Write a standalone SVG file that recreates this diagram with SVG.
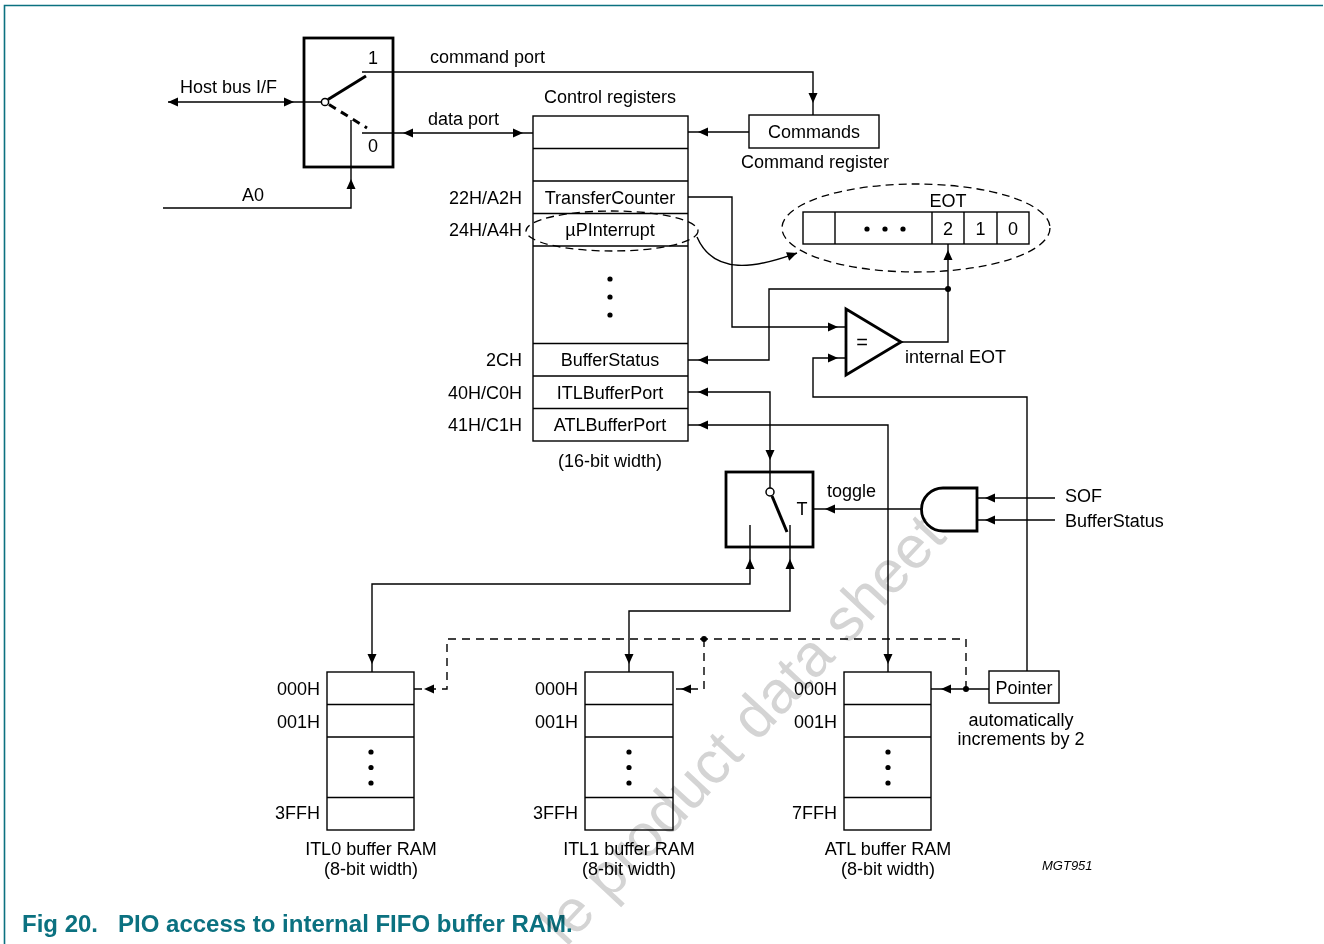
<svg xmlns="http://www.w3.org/2000/svg" width="1324" height="944" viewBox="0 0 1324 944">
<style>
  text { font-family: "Liberation Sans", Arial, sans-serif; font-size: 18px; fill: #000; }
  .m { text-anchor: middle; }
  .e { text-anchor: end; }
  .box { fill: #fff; stroke: #000; stroke-width: 1.4; }
  .thick { fill: #fff; stroke: #000; stroke-width: 2.8; }
  .ln { fill: none; stroke: #000; stroke-width: 1.4; }
  .dash { fill: none; stroke: #000; stroke-width: 1.4; stroke-dasharray: 8 6; }
  .cap { font-weight: bold; font-size: 24px; fill: #0b7180; }
  .wm { font-size: 60px; fill: #d4d4d4; mix-blend-mode: multiply; }
</style>
<defs>
  <marker id="m0" markerUnits="userSpaceOnUse" markerWidth="24" markerHeight="10" refX="10" refY="4.5" orient="auto-start-reverse" overflow="visible"><path d="M0,0 L10,4.5 L0,9 z" fill="#000"/></marker>
  <marker id="m6" markerUnits="userSpaceOnUse" markerWidth="24" markerHeight="10" refX="16" refY="4.5" orient="auto-start-reverse" overflow="visible"><path d="M0,0 L10,4.5 L0,9 z" fill="#000"/></marker>
  <marker id="m8" markerUnits="userSpaceOnUse" markerWidth="24" markerHeight="10" refX="18" refY="4.5" orient="auto-start-reverse" overflow="visible"><path d="M0,0 L10,4.5 L0,9 z" fill="#000"/></marker>
  <marker id="m10" markerUnits="userSpaceOnUse" markerWidth="24" markerHeight="10" refX="20" refY="4.5" orient="auto-start-reverse" overflow="visible"><path d="M0,0 L10,4.5 L0,9 z" fill="#000"/></marker>
  <marker id="m12" markerUnits="userSpaceOnUse" markerWidth="24" markerHeight="10" refX="22" refY="4.5" orient="auto-start-reverse" overflow="visible"><path d="M0,0 L10,4.5 L0,9 z" fill="#000"/></marker>
</defs>
<rect width="1324" height="944" fill="#fff"/>
<path d="M4.5,944 L4.5,5.5 L1323,5.5" fill="none" stroke="#0b7180" stroke-width="1.6"/>

<!-- connectors -->
<g id="connectors">
  <path class="ln" d="M168,102 L304,102" marker-start="url(#m0)" marker-end="url(#m10)"/>
  <path class="ln" d="M393,72 L813,72 L813,115" marker-end="url(#m12)"/>
  <path class="ln" d="M393,133 L533,133" marker-start="url(#m10)" marker-end="url(#m10)"/>
  <path class="ln" d="M163,208 L351,208 L351,167" marker-end="url(#m12)"/>
  <path class="ln" d="M749,132 L688,132" marker-end="url(#m10)"/>
  <path class="ln" d="M697,237 C714,276 756,268 797,253" marker-end="url(#m0)"/>
  <path class="ln" d="M688,197 L732,197 L732,327 L846,327" marker-end="url(#m8)"/>
  <path class="ln" d="M1027,671 L1027,397 L813,397 L813,358 L846,358" marker-end="url(#m8)"/>
  <path class="ln" d="M901,342 L948,342 L948,244" marker-end="url(#m6)"/>
  <path class="ln" d="M948,289 L769,289 L769,360 L688,360" marker-end="url(#m10)"/>
  <circle cx="948" cy="289" r="3" fill="#000"/>
  <path class="ln" d="M770,472 L770,392 L688,392" marker-start="url(#m12)" marker-end="url(#m10)"/>
  <path class="ln" d="M888,672 L888,425 L688,425" marker-start="url(#m8)" marker-end="url(#m10)"/>
  <path class="ln" d="M750,547 L750,584 L372,584 L372,672" marker-start="url(#m12)" marker-end="url(#m8)"/>
  <path class="ln" d="M790,547 L790,611 L629,611 L629,672" marker-start="url(#m12)" marker-end="url(#m8)"/>
  <path class="ln" d="M921,509 L813,509" marker-end="url(#m12)"/>
  <path class="ln" d="M1055,498 L977,498" marker-end="url(#m8)"/>
  <path class="ln" d="M1055,520 L977,520" marker-end="url(#m8)"/>
  <path class="ln" d="M989,689 L931,689" marker-end="url(#m10)"/>
  <path class="dash" d="M966,689 L966,639 L447,639 L447,689 L414,689" marker-end="url(#m10)"/>
  <path class="dash" d="M704,639 L704,689 L673,689" marker-end="url(#m8)"/>
  <circle cx="966" cy="689" r="3" fill="#000"/>
  <circle cx="704" cy="639" r="3" fill="#000"/>
  <text x="180" y="93">Host bus I/F</text>
  <text x="430" y="63">command port</text>
  <text x="428" y="125">data port</text>
  <text x="253" y="201" class="m">A0</text>
  <text x="827" y="497">toggle</text>
  <text x="1065" y="502">SOF</text>
  <text x="1065" y="527">BufferStatus</text>
</g>

<!-- host bus multiplexer -->
<g id="mux">
  <rect class="thick" x="304" y="38" width="89" height="129"/>
  <path class="ln" d="M304,102 L321.5,102 M362,72 L393,72 M362,133 L393,133 M351,167 L351,120"/>
  <line x1="328" y1="99.5" x2="366" y2="76" stroke="#000" stroke-width="3"/>
  <line x1="329" y1="104.5" x2="367" y2="128" stroke="#000" stroke-width="3" stroke-dasharray="8 6"/>
  <circle cx="325" cy="102" r="3.6" fill="#fff" stroke="#000" stroke-width="1.5"/>
  <text x="373" y="64" class="m">1</text>
  <text x="373" y="152" class="m">0</text>
</g>

<!-- control registers -->
<g id="control-registers">
  <text x="610" y="103" class="m">Control registers</text>
  <rect class="box" x="533" y="116" width="155" height="325"/>
  <path class="ln" d="M533,148.5 H688 M533,181 H688 M533,213.5 H688 M533,246 H688 M533,343.5 H688 M533,376 H688 M533,408.5 H688"/>
  <text x="610" y="203.5" class="m">TransferCounter</text>
  <text x="610" y="236" class="m">µPInterrupt</text>
  <ellipse cx="612" cy="231" rx="86" ry="20" fill="none" stroke="#000" stroke-width="1.3" stroke-dasharray="8 5"/>
  <circle cx="610" cy="279" r="2.6" fill="#000"/>
  <circle cx="610" cy="297" r="2.6" fill="#000"/>
  <circle cx="610" cy="315" r="2.6" fill="#000"/>
  <text x="610" y="366" class="m">BufferStatus</text>
  <text x="610" y="398.5" class="m">ITLBufferPort</text>
  <text x="610" y="431" class="m">ATLBufferPort</text>
  <text x="522" y="203.5" class="e">22H/A2H</text>
  <text x="522" y="236" class="e">24H/A4H</text>
  <text x="522" y="366" class="e">2CH</text>
  <text x="522" y="398.5" class="e">40H/C0H</text>
  <text x="522" y="431" class="e">41H/C1H</text>
  <text x="610" y="467" class="m">(16-bit width)</text>
</g>

<!-- command register -->
<g id="commands">
  <rect class="box" x="749" y="115" width="130" height="33"/>
  <text x="814" y="138" class="m">Commands</text>
  <text x="815" y="168" class="m">Command register</text>
</g>

<!-- EOT register -->
<g id="eot-register">
  <ellipse cx="916" cy="228" rx="134" ry="44" fill="none" stroke="#000" stroke-width="1.3" stroke-dasharray="8 5"/>
  <rect class="box" x="803" y="212" width="226" height="32"/>
  <path class="ln" d="M835,212 V244 M932,212 V244 M964,212 V244 M997,212 V244"/>
  <circle cx="867" cy="229" r="2.6" fill="#000"/>
  <circle cx="885" cy="229" r="2.6" fill="#000"/>
  <circle cx="903" cy="229" r="2.6" fill="#000"/>
  <text x="948" y="235" class="m">2</text>
  <text x="980.5" y="235" class="m">1</text>
  <text x="1013" y="235" class="m">0</text>
  <text x="948" y="207" class="m">EOT</text>
</g>

<!-- comparator -->
<g id="comparator">
  <polygon class="thick" points="846,309 901,342 846,375"/>
  <text x="862" y="349" class="m" style="font-size:20px">=</text>
  <text x="905" y="363">internal EOT</text>
</g>

<!-- toggle switch -->
<g id="toggle-switch">
  <rect class="thick" x="726" y="472" width="87" height="75"/>
  <path class="ln" d="M770,472 L770,488 M750,525 L750,547 M790,525 L790,547"/>
  <line x1="772" y1="496" x2="787" y2="532" stroke="#000" stroke-width="3"/>
  <circle cx="770" cy="492" r="4" fill="#fff" stroke="#000" stroke-width="1.5"/>
  <text x="802" y="515" class="m">T</text>
</g>

<!-- AND gate -->
<g id="and-gate">
  <path class="thick" d="M977,488 L943,488 A21.5,21.5 0 0 0 943,531 L977,531 Z"/>
</g>

<!-- pointer -->
<g id="pointer">
  <rect class="box" x="989" y="671" width="70" height="32"/>
  <text x="1024" y="694" class="m">Pointer</text>
  <text x="1021" y="726" class="m">automatically</text>
  <text x="1021" y="745" class="m">increments by 2</text>
</g>

<!-- RAMs -->
<g id="itl0-ram">
  <rect class="box" x="327" y="672" width="87" height="158"/>
  <path class="ln" d="M327,704.5 H414 M327,737 H414 M327,797.5 H414"/>
  <circle cx="371" cy="752" r="2.6" fill="#000"/>
  <circle cx="371" cy="767.5" r="2.6" fill="#000"/>
  <circle cx="371" cy="783" r="2.6" fill="#000"/>
  <text x="320" y="695" class="e">000H</text>
  <text x="320" y="728" class="e">001H</text>
  <text x="320" y="819" class="e">3FFH</text>
  <text x="371" y="855" class="m">ITL0 buffer RAM</text>
  <text x="371" y="875" class="m">(8-bit width)</text>
</g>
<g id="itl1-ram">
  <rect class="box" x="585" y="672" width="88" height="158"/>
  <path class="ln" d="M585,704.5 H673 M585,737 H673 M585,797.5 H673"/>
  <circle cx="629" cy="752" r="2.6" fill="#000"/>
  <circle cx="629" cy="767.5" r="2.6" fill="#000"/>
  <circle cx="629" cy="783" r="2.6" fill="#000"/>
  <text x="578" y="695" class="e">000H</text>
  <text x="578" y="728" class="e">001H</text>
  <text x="578" y="819" class="e">3FFH</text>
  <text x="629" y="855" class="m">ITL1 buffer RAM</text>
  <text x="629" y="875" class="m">(8-bit width)</text>
</g>
<g id="atl-ram">
  <rect class="box" x="844" y="672" width="87" height="158"/>
  <path class="ln" d="M844,704.5 H931 M844,737 H931 M844,797.5 H931"/>
  <circle cx="888" cy="752" r="2.6" fill="#000"/>
  <circle cx="888" cy="767.5" r="2.6" fill="#000"/>
  <circle cx="888" cy="783" r="2.6" fill="#000"/>
  <text x="837" y="695" class="e">000H</text>
  <text x="837" y="728" class="e">001H</text>
  <text x="837" y="819" class="e">7FFH</text>
  <text x="888" y="855" class="m">ATL buffer RAM</text>
  <text x="888" y="875" class="m">(8-bit width)</text>
</g>

<text x="1042" y="870" style="font-size:13px;font-style:italic">MGT951</text>
<text x="22" y="932" class="cap" xml:space="preserve">Fig 20.   PIO access to internal FIFO buffer RAM.</text>
<text class="wm" transform="translate(566,948) rotate(-47)">le product data sheet</text>
</svg>
